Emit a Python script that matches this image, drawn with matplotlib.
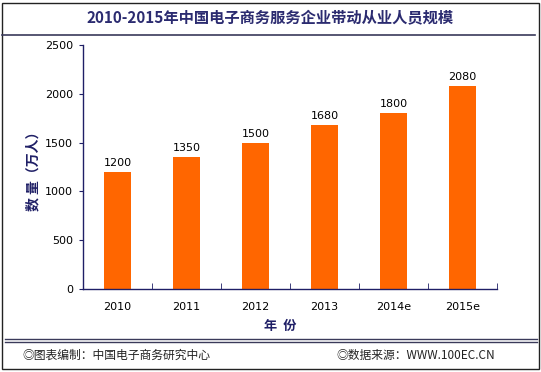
import numpy as np
import matplotlib.pyplot as plt
from matplotlib.lines import Line2D
from matplotlib.patches import Rectangle

plt.rcParams['font.family'] = ['Noto Sans CJK SC', 'DejaVu Sans']

# data
years = ['2010', '2011', '2012', '2013', '2014e', '2015e']
workers = [1200, 1350, 1500, 1680, 1800, 2080]

navy = '#1F1F66'
bar_color = '#FF6600'
num_font = 'DejaVu Sans'

fig = plt.figure(figsize=(5.41, 3.72), dpi=100)
fig.patch.set_facecolor('white')

# outer frame, title underline and footer double line
fig.add_artist(Rectangle((2 / 541, 3 / 372), 537 / 541, 366 / 372, transform=fig.transFigure,
                         fill=False, edgecolor='#222222', linewidth=1.0))
fig.add_artist(Line2D([2 / 541, 535 / 541], [1 - 35 / 372] * 2, transform=fig.transFigure,
                      color='#3A3A5A', linewidth=1.2))
for y in (339, 342):
    fig.add_artist(Line2D([5 / 541, 537 / 541], [1 - y / 372] * 2, transform=fig.transFigure,
                          color='#3A3A5A', linewidth=1.0))

fig.text(0.5, 1 - 18 / 372, '2010-2015年中国电子商务服务企业带动从业人员规模',
         ha='center', va='center', fontsize=11, fontweight='bold', color='#2B2B70')

ax = fig.add_axes([83 / 541, 83 / 372, 414 / 541, 244 / 372])
x = np.arange(len(years))
ax.bar(x, workers, width=0.4, color=bar_color, zorder=2)
for xi, v in zip(x, workers):
    ax.text(xi, v + 40, str(v), ha='center', va='bottom', fontsize=8, color='black',
            family=num_font)

ax.set_xlim(-0.5, len(years) - 0.5)
ax.set_ylim(0, 2500)
ax.set_yticks(np.arange(0, 2501, 500))
ax.set_xticks(x)
ax.set_xticklabels(years, fontsize=8, family=num_font)
for lab in ax.get_yticklabels():
    lab.set_family(num_font)
ax.tick_params(axis='x', length=0, pad=9)
ax.set_xticks(np.arange(0.5, len(years), 1), minor=True)
ax.tick_params(axis='x', which='minor', direction='in', length=4, color=navy)
ax.tick_params(axis='y', direction='out', length=3, color=navy, labelsize=8, pad=4)

for s in ('top', 'right'):
    ax.spines[s].set_visible(False)
for s in ('left', 'bottom'):
    ax.spines[s].set_color(navy)
    ax.spines[s].set_linewidth(1.0)

fig.text(33 / 541, 1 - 168 / 372, '数 量（万人）', rotation=90, ha='center', va='center',
         fontsize=10, fontweight='bold', color=navy)
fig.text(280 / 541, 1 - 326 / 372, '年  份', ha='center', va='center',
         fontsize=9.5, fontweight='bold', color=navy)

fig.text(22 / 541, 1 - 355 / 372, '◎图表编制：中国电子商务研究中心', ha='left', va='center',
         fontsize=8.5, color='#222222')
fig.text(495 / 541, 1 - 355 / 372, '◎数据来源：WWW.100EC.CN', ha='right', va='center',
         fontsize=8.5, color='#222222')

fig.savefig('out.png', dpi=100)
